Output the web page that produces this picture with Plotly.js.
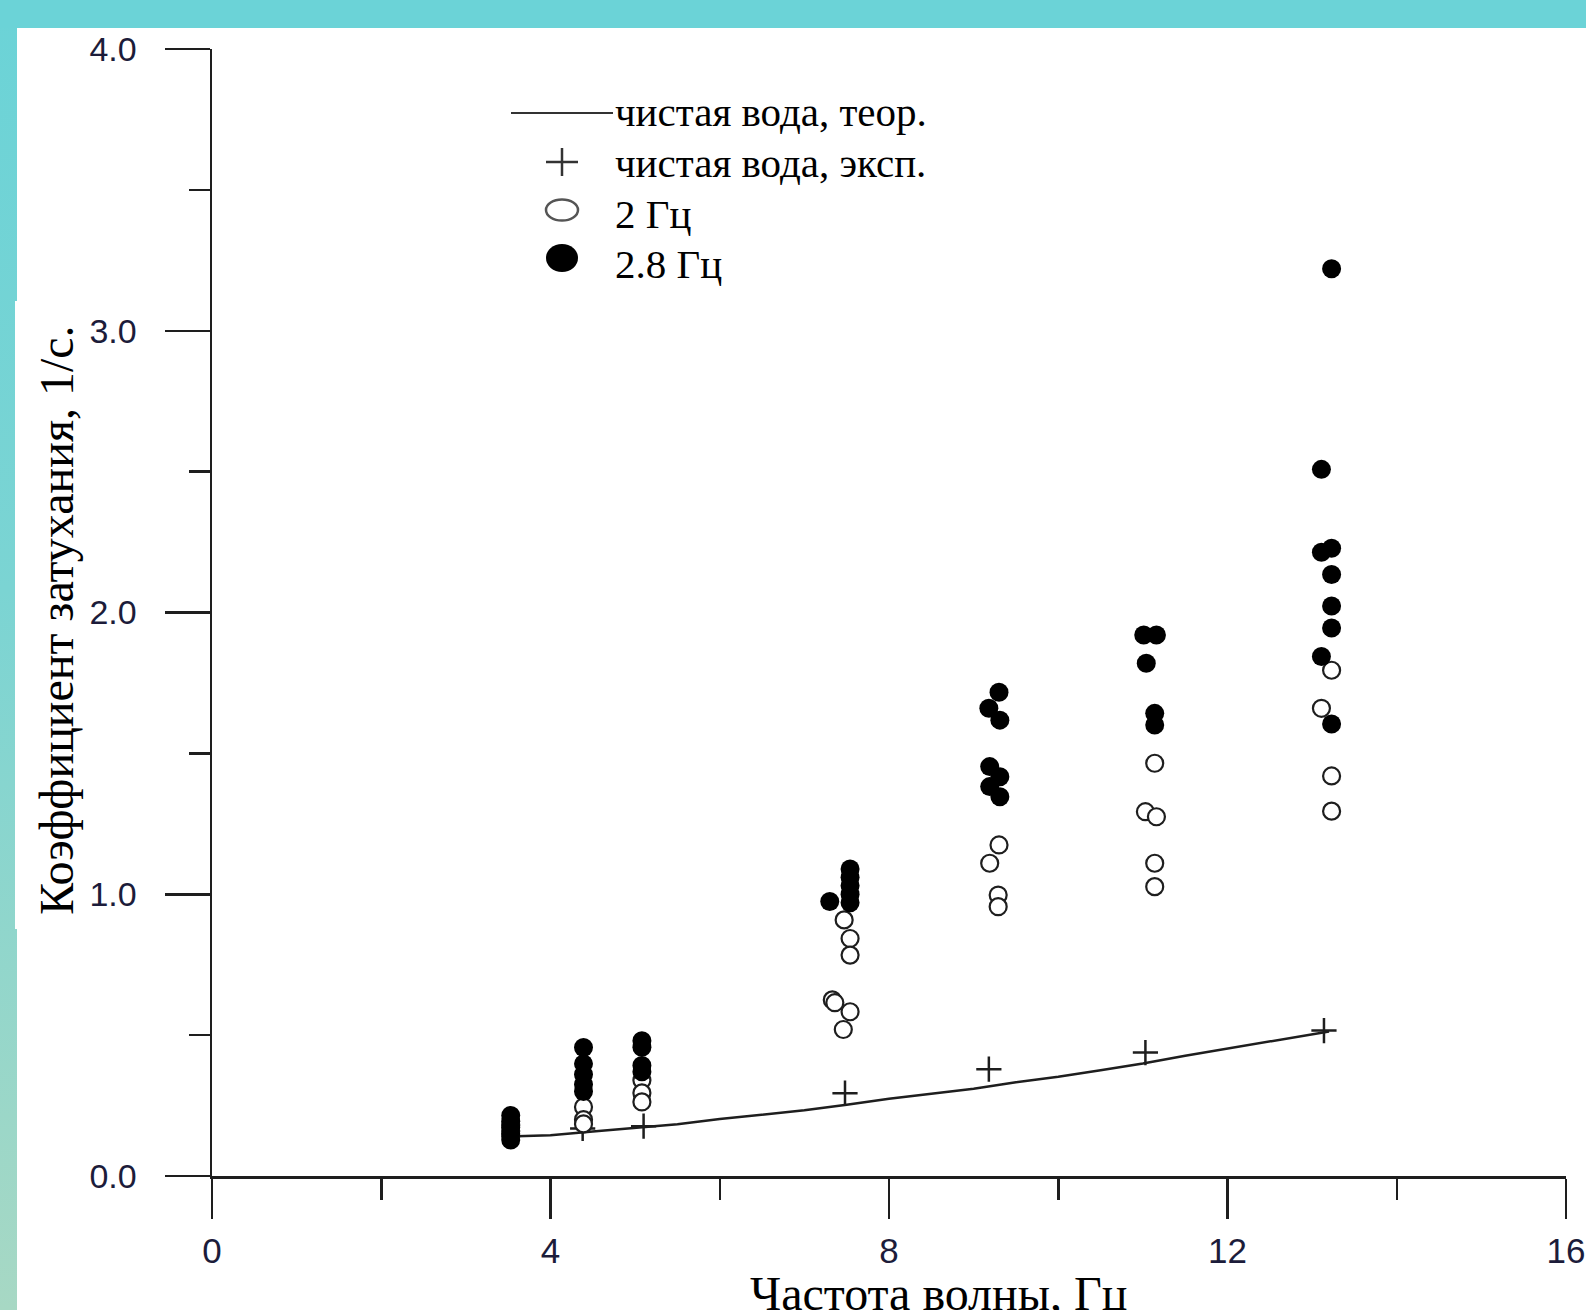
<!DOCTYPE html>
<html>
<head>
<meta charset="utf-8">
<script src="https://cdn.plot.ly/plotly-3.0.1.min.js"></script>
<style>
  html, body { margin: 0; padding: 0; }
  body {
    width: 1586px; height: 1310px; overflow: hidden; position: relative;
    background: linear-gradient(to bottom, #6bd3d7 0%, #7bd4d3 45%, #a7d8c4 100%);
  }
  #top { position: absolute; left: 0; top: 0; width: 1586px; height: 28px; background: #6bd3d7; }
  #paper { position: absolute; left: 17px; top: 28px; width: 1569px; height: 1282px; background: #ffffff; }
  #ybox { position: absolute; left: 15px; top: 301px; width: 10px; height: 628px; background: #ffffff; }
  #chart { position: absolute; left: 0; top: 0; width: 1586px; height: 1310px; }
</style>
</head>
<body>
<div id="top"></div>
<div id="paper"></div>
<div id="ybox"></div>
<div id="chart"></div>
<script>
// ---- data ----
const theoryX = [3.5, 4.0, 4.5, 5.0, 5.5, 6.0, 6.5, 7.0, 7.5, 8.0, 8.5, 9.0, 9.5, 10.0, 10.5, 11.0, 11.5, 12.0, 12.5, 13.2];
const theoryY = [0.140, 0.145, 0.158, 0.170, 0.184, 0.202, 0.217, 0.233, 0.253, 0.274, 0.292, 0.310, 0.333, 0.352, 0.375, 0.399, 0.427, 0.452, 0.478, 0.513];

const expX = [4.38, 5.10, 7.48, 9.18, 11.03, 13.14];
const expY = [0.169, 0.177, 0.294, 0.379, 0.438, 0.516];

const openX = [3.53, 3.53, 3.53, 4.39, 4.39, 4.39, 5.08, 5.08, 5.08,
               7.47, 7.54, 7.54, 7.33, 7.36, 7.54, 7.46,
               9.30, 9.19, 9.29, 9.29,
               11.14, 11.03, 11.16, 11.14, 11.14,
               13.23, 13.11, 13.23, 13.23];
const openY = [0.14, 0.16, 0.18, 0.245, 0.200, 0.185, 0.340, 0.295, 0.263,
               0.909, 0.843, 0.784, 0.625, 0.615, 0.583, 0.520,
               1.175, 1.110, 0.997, 0.956,
               1.465, 1.293, 1.275, 1.110, 1.027,
               1.795, 1.660, 1.420, 1.295];

const filledX = [3.53, 3.53, 3.53, 3.53, 3.53,
                 4.39, 4.39, 4.39, 4.39, 4.39,
                 5.08, 5.08, 5.08, 5.08,
                 7.54, 7.54, 7.54, 7.54, 7.54, 7.30,
                 9.30, 9.18, 9.31, 9.19, 9.31, 9.19, 9.31,
                 11.01, 11.16, 11.04, 11.14, 11.14,
                 13.23, 13.11, 13.11, 13.23, 13.23, 13.23, 13.23, 13.11, 13.23];
const filledY = [0.128, 0.150, 0.172, 0.194, 0.215,
                 0.456, 0.398, 0.360, 0.325, 0.300,
                 0.480, 0.457, 0.392, 0.370,
                 1.090, 1.060, 1.030, 1.000, 0.970, 0.974,
                 1.717, 1.660, 1.618, 1.453, 1.417, 1.382, 1.346,
                 1.920, 1.920, 1.820, 1.642, 1.601,
                 3.220, 2.508, 2.214, 2.228, 2.135, 2.023, 1.945, 1.844, 1.604];

const xTickVals = [0, 4, 8, 12, 16];
const xTickText = ['0', '4', '8', '12', '16'];
const yTickVals = [0, 1, 2, 3, 4];
const yTickText = ['0.0', '1.0', '2.0', '3.0', '4.0'];

const legendNames = ['чистая вода, теор.', 'чистая вода, эксп.', '2 Гц', '2.8 Гц'];
const xTitle = 'Частота волны, Гц';
const yTitle = 'Коэффициент затухания, 1/с.';

// ---- layout helpers (pixel -> paper) ----
const W = 1586, H = 1310;
const M = { l: 212, r: 20, t: 49, b: 134 };
const PW = W - M.l - M.r, PH = H - M.t - M.b;
const px = v => (v - M.l) / PW;
const py = v => (H - M.b - v) / PH;

const ink = '#1e1e1e';
const serif = 'Liberation Serif, Times New Roman, serif';
const sans = 'Liberation Sans, Arial, sans-serif';
const tickColor = '#1c1c3a';

const traces = [
  { x: theoryX, y: theoryY, mode: 'lines', name: legendNames[0],
    line: { color: ink, width: 2.5 }, showlegend: false },
  { x: expX, y: expY, mode: 'markers', name: legendNames[1],
    marker: { symbol: 'cross-thin', size: 18, line: { color: ink, width: 2.5 } }, showlegend: false },
  { x: openX, y: openY, mode: 'markers', name: legendNames[2],
    marker: { symbol: 'circle', size: 17, color: '#ffffff', line: { color: ink, width: 2.2 } }, showlegend: false },
  { x: filledX, y: filledY, mode: 'markers', name: legendNames[3],
    marker: { symbol: 'circle', size: 19, color: '#000000', line: { width: 0 } }, showlegend: false }
];

// custom legend drawn with shapes + annotations
const legCx = 562;
const rows = [113, 162, 210, 258];
const textY = [112, 163, 214, 264];
const shapes = [
  { type: 'line', xref: 'paper', yref: 'paper', x0: px(511), x1: px(613), y0: py(rows[0]), y1: py(rows[0]),
    line: { color: '#333', width: 2.2 } },
  { type: 'line', xref: 'paper', yref: 'paper', x0: px(legCx - 16), x1: px(legCx + 16), y0: py(rows[1]), y1: py(rows[1]),
    line: { color: '#333', width: 2.5 } },
  { type: 'line', xref: 'paper', yref: 'paper', x0: px(legCx), x1: px(legCx), y0: py(rows[1] - 14), y1: py(rows[1] + 14),
    line: { color: '#333', width: 2.5 } },
  { type: 'circle', xref: 'paper', yref: 'paper', x0: px(legCx - 16), x1: px(legCx + 16), y0: py(rows[2] - 10.5), y1: py(rows[2] + 10.5),
    line: { color: '#555', width: 2.5 }, fillcolor: '#ffffff' },
  { type: 'circle', xref: 'paper', yref: 'paper', x0: px(legCx - 16), x1: px(legCx + 16), y0: py(rows[3] - 14), y1: py(rows[3] + 14),
    line: { color: '#000', width: 0 }, fillcolor: '#000000' }
];

const annotations = legendNames.map((t, i) => ({
  text: t, xref: 'paper', yref: 'paper', x: px(613), y: py(textY[i]),
  xanchor: 'left', yanchor: 'middle', showarrow: false,
  font: { family: serif, size: 41, color: '#000' }
}));
annotations.push({
  text: yTitle, xref: 'paper', yref: 'paper', x: px(57), y: py(620), textangle: -90,
  xanchor: 'center', yanchor: 'middle', showarrow: false,
  font: { family: serif, size: 48, color: '#000' }
});
annotations.push({
  text: xTitle, xref: 'paper', yref: 'paper', x: px(938), y: py(1293),
  xanchor: 'center', yanchor: 'middle', showarrow: false,
  font: { family: serif, size: 48, color: '#000' }
});

const layout = {
  width: W, height: H,
  margin: M,
  paper_bgcolor: 'rgba(0,0,0,0)',
  plot_bgcolor: 'rgba(0,0,0,0)',
  showlegend: false,
  xaxis: {
    range: [0, 16], tickvals: xTickVals, ticktext: xTickText,
    showgrid: false, zeroline: false,
    showline: true, linecolor: ink, linewidth: 2.5,
    ticks: 'outside', ticklen: 40, tickwidth: 2.5, tickcolor: ink,
    ticklabelstandoff: 2,
    minor: { dtick: 2, tick0: 0, ticks: 'outside', ticklen: 21, tickwidth: 2.5, tickcolor: ink, showgrid: false },
    tickfont: { family: sans, size: 35, color: tickColor }
  },
  yaxis: {
    range: [0, 4], tickvals: yTickVals, ticktext: yTickText,
    showgrid: false, zeroline: false,
    showline: true, linecolor: ink, linewidth: 2.5,
    ticks: 'outside', ticklen: 45, tickwidth: 2.5, tickcolor: ink,
    ticklabelstandoff: 21,
    minor: { dtick: 0.5, tick0: 0, ticks: 'outside', ticklen: 21, tickwidth: 2.5, tickcolor: ink, showgrid: false },
    tickfont: { family: sans, size: 34, color: tickColor }
  },
  shapes: shapes,
  annotations: annotations
};

Plotly.newPlot('chart', traces, layout, { staticPlot: true, displayModeBar: false });
</script>
</body>
</html>
